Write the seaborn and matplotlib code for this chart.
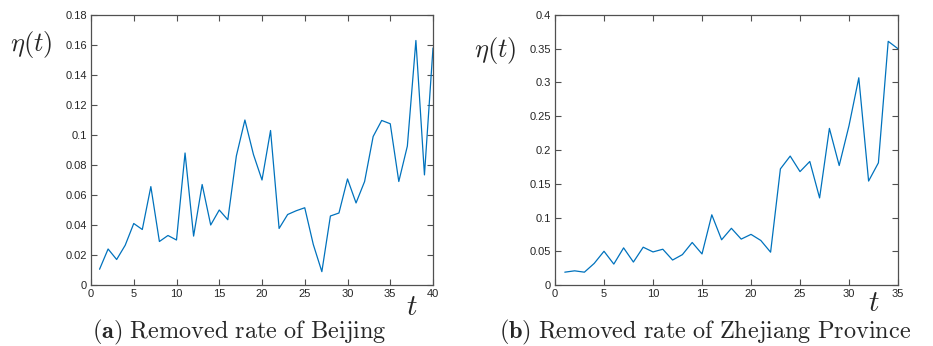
import numpy as np
import pandas as pd
import matplotlib
matplotlib.use("Agg")
import matplotlib.pyplot as plt
import seaborn as sns
from matplotlib.ticker import FuncFormatter

beijing_t = list(range(1, 41))
beijing_eta = [0.0105, 0.024, 0.017, 0.0265, 0.041, 0.037, 0.0656, 0.029, 0.033, 0.030,
               0.088, 0.0326, 0.067, 0.040, 0.050, 0.0435, 0.086, 0.110, 0.087, 0.070,
               0.103, 0.0377, 0.047, 0.0495, 0.0515, 0.027, 0.0089, 0.046, 0.048, 0.0707,
               0.0547, 0.069, 0.099, 0.1097, 0.1075, 0.069, 0.0926, 0.163, 0.0734, 0.158]

zhejiang_t = list(range(1, 36))
zhejiang_eta = [0.019, 0.021, 0.019, 0.032, 0.050, 0.031, 0.055, 0.034, 0.056, 0.049,
                0.053, 0.037, 0.045, 0.063, 0.046, 0.104, 0.067, 0.084, 0.068, 0.075,
                0.066, 0.0486, 0.172, 0.191, 0.168, 0.183, 0.129, 0.232, 0.177, 0.236,
                0.307, 0.154, 0.181, 0.361, 0.350]

captions = [r"$\mathbf{(a)}$ $\mathrm{Removed\ rate\ of\ Beijing}$",
            r"$\mathbf{(b)}$ $\mathrm{Removed\ rate\ of\ Zhejiang\ Province}$"]

sns.set_theme(style="white")
plt.rcParams['font.family'] = ['Liberation Sans', 'DejaVu Sans']
plt.rcParams['mathtext.fontset'] = 'cm'

fig = plt.figure(figsize=(9.33, 3.46), dpi=100)
W, H = 933, 346
ax1 = fig.add_axes([91 / W, (H - 285) / H, 342 / W, 270 / H])
ax2 = fig.add_axes([555 / W, (H - 285) / H, 343 / W, 270 / H])

line_color = "#0072BD"
df1 = pd.DataFrame({"t": beijing_t, "eta": beijing_eta})
df2 = pd.DataFrame({"t": zhejiang_t, "eta": zhejiang_eta})
sns.lineplot(data=df1, x="t", y="eta", ax=ax1, color=line_color, linewidth=0.9)
sns.lineplot(data=df2, x="t", y="eta", ax=ax2, color=line_color, linewidth=0.9)

fmt = FuncFormatter(lambda v, p: ("%g" % round(v, 4)))
for ax, xmax, ymax, ystep, xstep in [(ax1, 40, 0.18, 0.02, 5), (ax2, 35, 0.4, 0.05, 5)]:
    ax.set_xlim(0, xmax)
    ax.set_ylim(0, ymax)
    ax.set_xticks(np.arange(0, xmax + 0.1, xstep))
    ax.set_yticks(np.arange(0, ymax + 1e-9, ystep))
    ax.xaxis.set_major_formatter(fmt)
    ax.yaxis.set_major_formatter(fmt)
    ax.set_xlabel("")
    ax.set_ylabel("")
    ax.tick_params(direction="in", length=4, width=0.8, colors="#505050",
                   labelsize=8, labelcolor="#262626", top=True, right=True,
                   bottom=True, left=True, pad=3)
    for s in ax.spines.values():
        s.set_color("#505050")
        s.set_linewidth(0.9)
        s.set_visible(True)

fig.text(10 / W, 1 - 44 / H, r"$\eta(t)$", fontsize=19, ha="left", va="center")
fig.text(474 / W, 1 - 50 / H, r"$\eta(t)$", fontsize=19, ha="left", va="center")
fig.text(412 / W, 1 - 307 / H, r"$t$", fontsize=21, ha="center", va="center")
fig.text(874 / W, 1 - 303 / H, r"$t$", fontsize=21, ha="center", va="center")

fig.text(239 / W, 1 - 332 / H, captions[0], fontsize=17.5, ha="center", va="center")
fig.text(705 / W, 1 - 332 / H, captions[1], fontsize=17.5, ha="center", va="center")

fig.savefig("out.png", dpi=100)
